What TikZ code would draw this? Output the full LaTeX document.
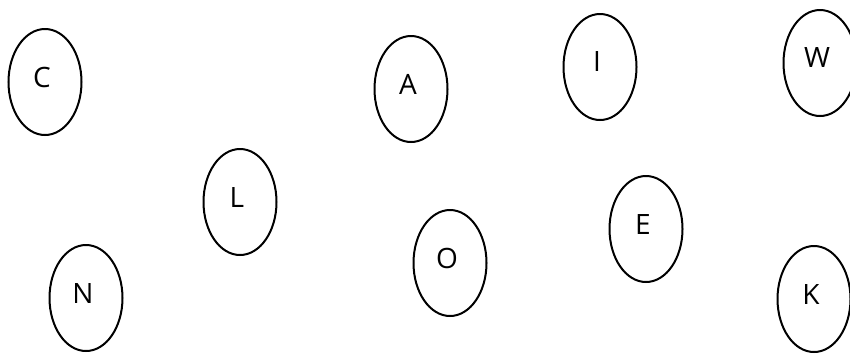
\documentclass[tikz,border=0pt]{standalone}
\usepackage{fontspec}
\setmainfont{Open Sans}
\usepackage{tikz}
\usetikzlibrary{shapes.geometric}

\begin{document}
\begin{tikzpicture}[
    x=1pt, y=1pt,
    letter/.style={
      draw,
      ellipse,
      line width=2pt,
      minimum width=73pt,
      minimum height=106pt,
      inner sep=0pt
    },
    tag/.style={
      font=\fontsize{28}{32}\selectfont,
      xshift=-3pt,
      yshift=5pt
    }
  ]
    \useasboundingbox (0,0) rectangle (850,-354);

    \node[letter, label={[tag]center:C}] (c) at (45,-82) {};
    \node[letter, label={[tag]center:A}] (a) at (411,-89) {};
    \node[letter, label={[tag]center:I}] (i) at (600,-67) {};
    \node[letter, label={[tag]center:W}] (w) at (820,-63) {};

    \node[letter, label={[tag]center:L}] (l) at (240,-202) {};
    \node[letter, label={[tag]center:E}] (e) at (646,-229) {};
    \node[letter, label={[tag]center:O}] (o) at (450,-263) {};

    \node[letter, label={[tag]center:N}] (n) at (86,-298) {};
    \node[letter, label={[tag]center:K}] (k) at (814,-299) {};
  \end{tikzpicture}
\end{document}
